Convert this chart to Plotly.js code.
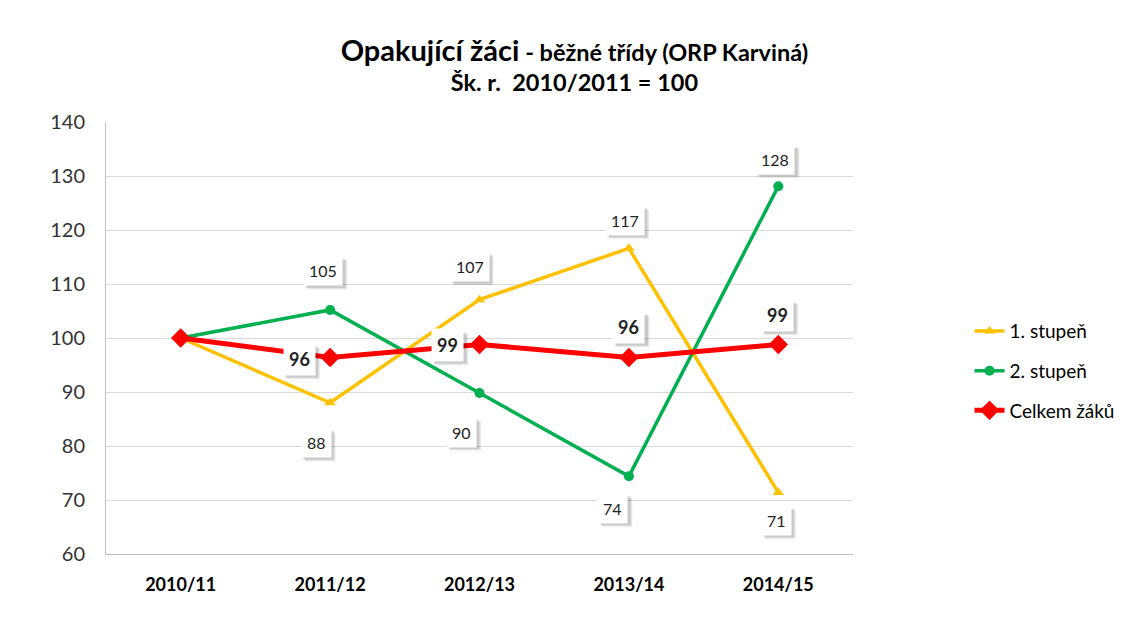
<!DOCTYPE html>
<html><head><meta charset="utf-8">
<script src="https://cdn.plot.ly/plotly-3.0.1.min.js"></script>
<style>body{margin:0;background:#fff}#chart{width:1133px;height:637px}</style>
</head><body><div id="chart"></div>
<script>
const categories = ["2010/11", "2011/12", "2012/13", "2013/14", "2014/15"];
const stupen1 = [100, 88.0, 107.1, 116.6, 71.4];
const stupen2 = [100, 105.2, 89.8, 74.4, 128.1];
const celkem = [100, 96.4, 98.8, 96.4, 98.8];
const seriesNames = ["1. stupeň", "2. stupeň", "Celkem žáků"];
// label placement offsets (px) for each point; null = no label
const off1 = [null, [-14, -40], [-10, 33], [-4, 28], [-2, -28]];
const off2 = [null, [-7, 39], [-18, -39], [-16, -32], [-3, 27]];
const off3 = [null, [-31, -2], [-32, -1], [0, 30], [-1, 29]];

const FONT = "Lato, 'Open Sans', sans-serif";
const traces = [
  {x: categories, y: stupen1, name: seriesNames[0], type: "scatter", mode: "lines+markers",
   line: {color: "#FFC000", width: 3.5}, marker: {symbol: "triangle-up", size: 10, color: "#FFC000"}, legendgroup: "a"},
  {x: categories, y: stupen2, name: seriesNames[1], type: "scatter", mode: "lines+markers",
   line: {color: "#00B050", width: 3.5}, marker: {symbol: "circle", size: 10, color: "#00B050"}, legendgroup: "b"},
  {x: categories, y: celkem, name: seriesNames[2], type: "scatter", mode: "lines+markers",
   line: {color: "#FF0000", width: 5}, marker: {symbol: "diamond", size: 15, color: "#FF0000"}, legendgroup: "c"}
];

const annotations = [];
const shapes = [];
function addLabels(vals, offs, bold) {
  vals.forEach((v, i) => {
    if (!offs[i]) return;
    const label = String(Math.round(v));
    const txt = bold ? "<b>" + label + "</b>" : label;
    const size = bold ? 18 : 16;
    const w = label.length * (bold ? 10.6 : 9.3) + 12;
    const h = bold ? 31 : 29;
    const cx = offs[i][0], cy = offs[i][1];
    [[4, 0.10], [2.5, 0.12]].forEach(([d, a]) => {
      shapes.push({type: "rect", xref: "x", yref: "y", xsizemode: "pixel", ysizemode: "pixel",
        xanchor: categories[i], yanchor: v, layer: "above",
        x0: cx - w / 2 + d, x1: cx + w / 2 + d, y0: cy - h / 2 - d, y1: cy + h / 2 - d,
        fillcolor: "rgba(0,0,0," + a + ")", line: {width: 0}});
    });
    annotations.push({x: categories[i], y: v, xref: "x", yref: "y", text: txt, showarrow: false,
      xshift: cx, yshift: cy, bgcolor: "#ffffff", borderpad: 5,
      font: {family: FONT, size: size, color: "#222"}});
  });
}
addLabels(stupen1, off1, false);
addLabels(stupen2, off2, false);
addLabels(celkem, off3, true);

const layout = {
  width: 1133, height: 637,
  margin: {l: 106, r: 280, t: 122, b: 83},
  paper_bgcolor: "#fff", plot_bgcolor: "#fff",
  title: {text: "<b><span style='font-size:29px'>Opakující žáci</span> - běžné třídy (ORP Karviná)</b><br><b>Šk. r.  2010/2011 = 100</b>",
    font: {family: FONT, size: 23.5, color: "#000"}, x: 0.507, xref: "container", xanchor: "center", y: 0.905, yref: "container", yanchor: "top"},
  xaxis: {type: "category", range: [-0.5, 4.5], showgrid: false, showline: true, linecolor: "#bfbfbf", linewidth: 1,
    ticks: "", ticklabelstandoff: 14, tickfont: {family: FONT, size: 18, color: "#000", weight: "bold"}, fixedrange: true},
  yaxis: {range: [60, 140], dtick: 10, showgrid: true, gridcolor: "#d9d9d9", gridwidth: 1, showline: true,
    linecolor: "#bfbfbf", linewidth: 1, zeroline: false, ticks: "", ticklabelstandoff: 16,
    tickfont: {family: FONT, size: 20, color: "#333"}, fixedrange: true},
  showlegend: true,
  legend: {x: 1.156, xanchor: "left", y: 0.56, yanchor: "top", font: {family: FONT, size: 19, color: "#000"},
    tracegroupgap: 12, bgcolor: "rgba(0,0,0,0)"},
  annotations: annotations,
  shapes: shapes
};
Plotly.newPlot("chart", traces, layout, {displayModeBar: false, staticPlot: true});
</script></body></html>
